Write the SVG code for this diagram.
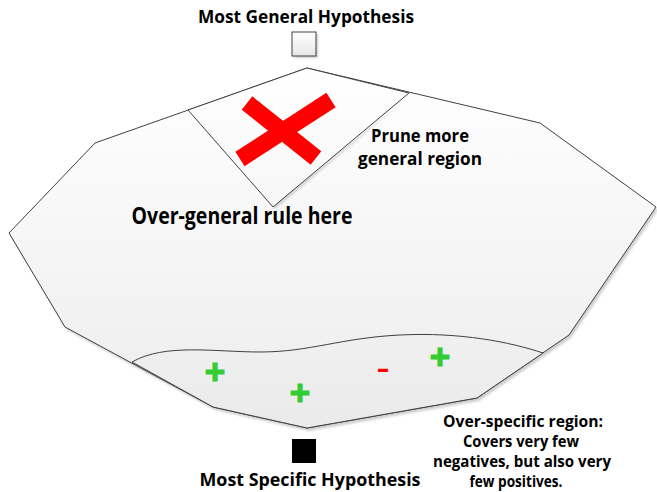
<svg xmlns="http://www.w3.org/2000/svg" width="657" height="492" viewBox="0 0 657 492">
  <defs>
    <linearGradient id="spaceFill" x1="0" y1="0" x2="0" y2="1">
      <stop offset="0" stop-color="#ffffff"/>
      <stop offset="1" stop-color="#ececec"/>
    </linearGradient>
    <linearGradient id="wedgeFill" x1="0" y1="0" x2="0" y2="1">
      <stop offset="0" stop-color="#ffffff"/>
      <stop offset="1" stop-color="#f7f7f7"/>
    </linearGradient>
    <linearGradient id="lowFill" x1="0" y1="0" x2="0" y2="1">
      <stop offset="0" stop-color="#f0f0f0"/>
      <stop offset="1" stop-color="#eaeaea"/>
    </linearGradient>
    <linearGradient id="boxFill" x1="0" y1="0" x2="0" y2="1">
      <stop offset="0" stop-color="#ffffff"/>
      <stop offset="1" stop-color="#e6e6e6"/>
    </linearGradient>
    <filter id="soft" x="-5%" y="-5%" width="110%" height="110%">
      <feGaussianBlur stdDeviation="1.2"/>
    </filter>
  </defs>
  <style>
    .edge { stroke: #404040; stroke-width: 1; stroke-linejoin: miter; }
    .shadow { fill: #cfcfcf; filter: url(#soft); }
    .lbl { font-family: "Open Sans", "Noto Sans", "Liberation Sans", sans-serif; font-weight: bold; fill: #000000; }
    .pos { font-family: "Liberation Sans", Arial, sans-serif; font-weight: bold; fill: #33cc33; stroke: #33cc33; stroke-width: 1.2; font-size: 35px; text-anchor: middle; }
    .neg { font-family: "Liberation Sans", Arial, sans-serif; font-weight: bold; fill: #ff0000; font-size: 28px; text-anchor: middle; }
    .cross { stroke: #ff0000; stroke-width: 17; stroke-linecap: butt; fill: none; }
  </style>

  <!-- whole hypothesis space -->
  <g id="hypothesis-space">
    <polygon class="shadow" transform="translate(2,3)" points="307,68 540,123 656,207 569,335 477,398 307,428 213,407 65,327 9,233 95,143"/>
    <polygon class="edge" fill="url(#spaceFill)" points="307,68 540,123 656,207 569,335 477,398 307,428 213,407 65,327 9,233 95,143"/>
  </g>

  <!-- pruned, overly general wedge at the top -->
  <g id="pruned-region">
    <path class="shadow" transform="translate(2,2)" d="M409,93 L273,207 L271,204 Z"/>
    <polygon class="edge" fill="url(#wedgeFill)" points="188,110 307,68 409,93 273,207"/>
    <g id="prune-mark">
      <line class="cross" x1="247" y1="103" x2="316" y2="158"/>
      <line class="cross" x1="331" y1="100" x2="240" y2="159"/>
    </g>
  </g>

  <!-- overly specific band at the bottom -->
  <g id="specific-region">
    <path class="edge" fill="url(#lowFill)" d="M132,362 C165,343 215,352 260,352 C310,352 340,338 400,335 C460,332 510,342 543,353 L477,398 L307,428 L213,407 Z"/>
    <text class="pos" x="215" y="384">+</text>
    <text class="pos" x="300" y="405">+</text>
    <text class="pos" x="440" y="369">+</text>
    <text class="neg" x="383" y="378" transform="translate(383,0) scale(1.4,1) translate(-383,0)">-</text>
  </g>

  <!-- top: most general hypothesis -->
  <g id="general-hypothesis">
    <rect x="294" y="34" width="24" height="24" fill="#cfcfcf" filter="url(#soft)"/>
    <rect class="edge" x="292" y="32" width="24" height="24" fill="url(#boxFill)"/>
    <text class="lbl" x="306" y="23" font-size="18.5" text-anchor="middle" textLength="216" lengthAdjust="spacingAndGlyphs">Most General Hypothesis</text>
  </g>

  <!-- bottom: most specific hypothesis -->
  <g id="specific-hypothesis">
    <rect x="292" y="439" width="24" height="24" fill="#000000"/>
    <text class="lbl" x="310" y="486" font-size="18.5" text-anchor="middle" textLength="221" lengthAdjust="spacingAndGlyphs">Most Specific Hypothesis</text>
  </g>

  <!-- annotations -->
  <g id="labels">
    <text class="lbl" x="242" y="224" font-size="23" text-anchor="middle" textLength="221" lengthAdjust="spacingAndGlyphs">Over-general rule here</text>
    <text class="lbl" x="420" y="142" font-size="18.5" text-anchor="middle" textLength="98" lengthAdjust="spacingAndGlyphs">Prune more</text>
    <text class="lbl" x="420" y="165" font-size="18.5" text-anchor="middle" textLength="124" lengthAdjust="spacingAndGlyphs">general region</text>
    <text class="lbl" x="523" y="427" font-size="15.5" text-anchor="middle" textLength="160" lengthAdjust="spacingAndGlyphs">Over-specific region:</text>
    <text class="lbl" x="521" y="447" font-size="15.5" text-anchor="middle" textLength="116" lengthAdjust="spacingAndGlyphs">Covers very few</text>
    <text class="lbl" x="522" y="467" font-size="15.5" text-anchor="middle" textLength="178" lengthAdjust="spacingAndGlyphs">negatives, but also very</text>
    <text class="lbl" x="516" y="487" font-size="15.5" text-anchor="middle" textLength="93" lengthAdjust="spacingAndGlyphs">few positives.</text>
  </g>
</svg>
